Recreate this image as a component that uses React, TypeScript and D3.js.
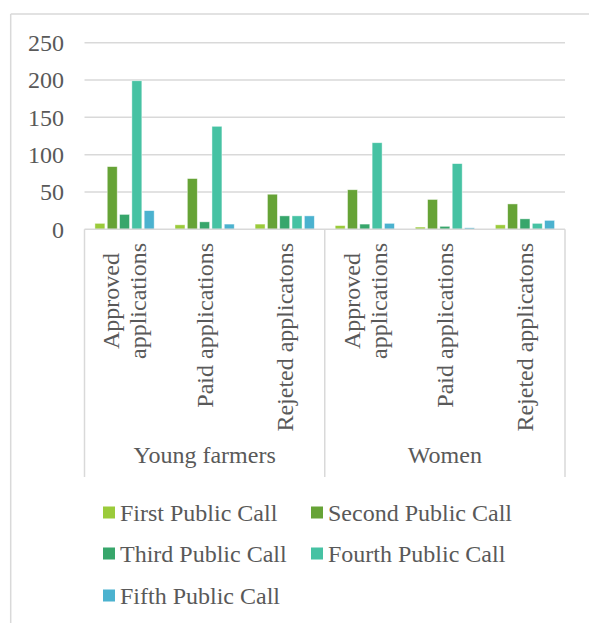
import React from "react";
import * as d3 from "d3";

const groups = ["Young farmers", "Women"];
const subCategories = ["Approved applications", "Paid applications", "Rejeted applicatons"];
const subLabelLines = [["Approved", "applications"], ["Paid applications"], ["Rejeted applicatons"]];
const series = ["First Public Call", "Second Public Call", "Third Public Call", "Fourth Public Call", "Fifth Public Call"];
const colors = ["#9BCB3B", "#66A336", "#37A66B", "#46C2A3", "#4BB2CF"];
// values per series, across 6 categories (Young farmers x3, Women x3)
const firstCall = [8, 6, 7, 5, 3, 6];
const secondCall = [84, 68, 47, 53, 40, 34];
const thirdCall = [20, 10, 18, 7, 4, 14];
const fourthCall = [199, 138, 18, 116, 88, 8];
const fifthCall = [25, 7, 18, 8, 2, 12];
const yTicks = [0, 50, 100, 150, 200, 250];

const seriesValues = [firstCall, secondCall, thirdCall, fourthCall, fifthCall];

const FONT = "'Liberation Serif', 'Times New Roman', 'DejaVu Serif', serif";

function measure(text: string, size: number): number {
  if (typeof document === "undefined") return text.length * size * 0.45;
  const c = document.createElement("canvas");
  const ctx = c.getContext("2d");
  if (!ctx) return text.length * size * 0.45;
  ctx.font = `${size}px ${FONT}`;
  return ctx.measureText(text).width;
}

export default function App() {
  const W = 589, H = 623;
  const left = 84.5, right = 565, top = 42.7, bottom = 229.3;
  const textColor = "#595959";
  const grid = "#d9d9d9";
  const fs = 24;

  const cats = groups.flatMap((g) => subCategories.map((s) => g + "|" + s));
  const x0 = d3.scaleBand<string>().domain(cats).range([left, right]).padding(0);
  const bw = x0.bandwidth();
  const outer = 9.25;
  const x1 = d3.scaleBand<string>().domain(series).range([outer, bw - outer]).paddingInner(0.19).paddingOuter(0.095);
  const y = d3.scaleLinear().domain([0, 250]).range([bottom, top]);

  const groupScale = d3.scaleBand<string>().domain(groups).range([left, right]);

  const legendRows = [
    [0, 1],
    [2, 3],
    [4],
  ];
  const legendCols = [103, 311];
  const legendRowY = [512.5, 553.5, 595.5];
  const labelTop = 243;

  return (
    <svg width={W} height={H} style={{ position: "absolute", left: 0, top: 0, fontFamily: FONT }}>
      <rect x={0} y={0} width={W} height={H} fill="#fff" />
      {/* frame */}
      <line x1={10.7} x2={W} y1={14} y2={14} stroke={grid} strokeWidth={1.5} />
      <line x1={10.7} x2={10.7} y1={14} y2={H} stroke={grid} strokeWidth={1.5} />
      {/* gridlines */}
      {yTicks.map((t) => (
        <g key={t}>
          {t !== 0 && <line x1={left} x2={right} y1={y(t)} y2={y(t)} stroke={grid} strokeWidth={1.5} />}
          <text x={64} y={y(t)} dy="0.35em" textAnchor="end" fontSize={fs} fill={textColor}>
            {t}
          </text>
        </g>
      ))}
      {/* bars */}
      {cats.map((c, ci) => (
        <g key={c} transform={`translate(${x0(c)},0)`}>
          {series.map((s, si) => {
            const v = seriesValues[si][ci];
            return (
              <rect
                key={s}
                x={x1(s)}
                y={y(v)}
                width={x1.bandwidth()}
                height={y(0) - y(v)}
                fill={colors[si]}
                stroke="#fff"
                strokeOpacity={0.6}
                strokeWidth={0.75}
              />
            );
          })}
        </g>
      ))}
      {/* category axis */}
      <line x1={left} x2={right} y1={bottom} y2={bottom} stroke={grid} strokeWidth={1.5} />
      {[left, ...groups.map((g) => (groupScale(g) as number) + groupScale.bandwidth())].map((xv, i) => (
        <line key={i} x1={xv} x2={xv} y1={bottom} y2={477} stroke={grid} strokeWidth={1.5} />
      ))}
      {cats.map((c, ci) => {
        const cx = (x0(c) as number) + bw / 2;
        const lines = subLabelLines[ci % subCategories.length];
        const lh = 27;
        const maxW = Math.max(...lines.map((l) => measure(l, fs)));
        const midY = labelTop + maxW / 2;
        return (
          <g key={c}>
            {lines.map((ln, li) => {
              const offset = (li - (lines.length - 1) / 2) * lh;
              return (
                <text
                  key={li}
                  transform={`translate(${cx + offset},${midY}) rotate(-90)`}
                  textAnchor="middle"
                  dy="0.35em"
                  fontSize={fs}
                  fill={textColor}
                >
                  {ln}
                </text>
              );
            })}
          </g>
        );
      })}
      {groups.map((g) => (
        <text
          key={g}
          x={(groupScale(g) as number) + groupScale.bandwidth() / 2}
          y={463}
          textAnchor="middle"
          fontSize={fs}
          fill={textColor}
        >
          {g}
        </text>
      ))}
      {/* legend */}
      {legendRows.map((row, ri) =>
        row.map((si, k) => (
          <g key={si} transform={`translate(${legendCols[k]},${legendRowY[ri]})`}>
            <rect x={0} y={-6} width={12} height={12} fill={colors[si]} />
            <text x={17} y={0} dy="0.35em" fontSize={fs} fill={textColor}>
              {series[si]}
            </text>
          </g>
        ))
      )}
    </svg>
  );
}
